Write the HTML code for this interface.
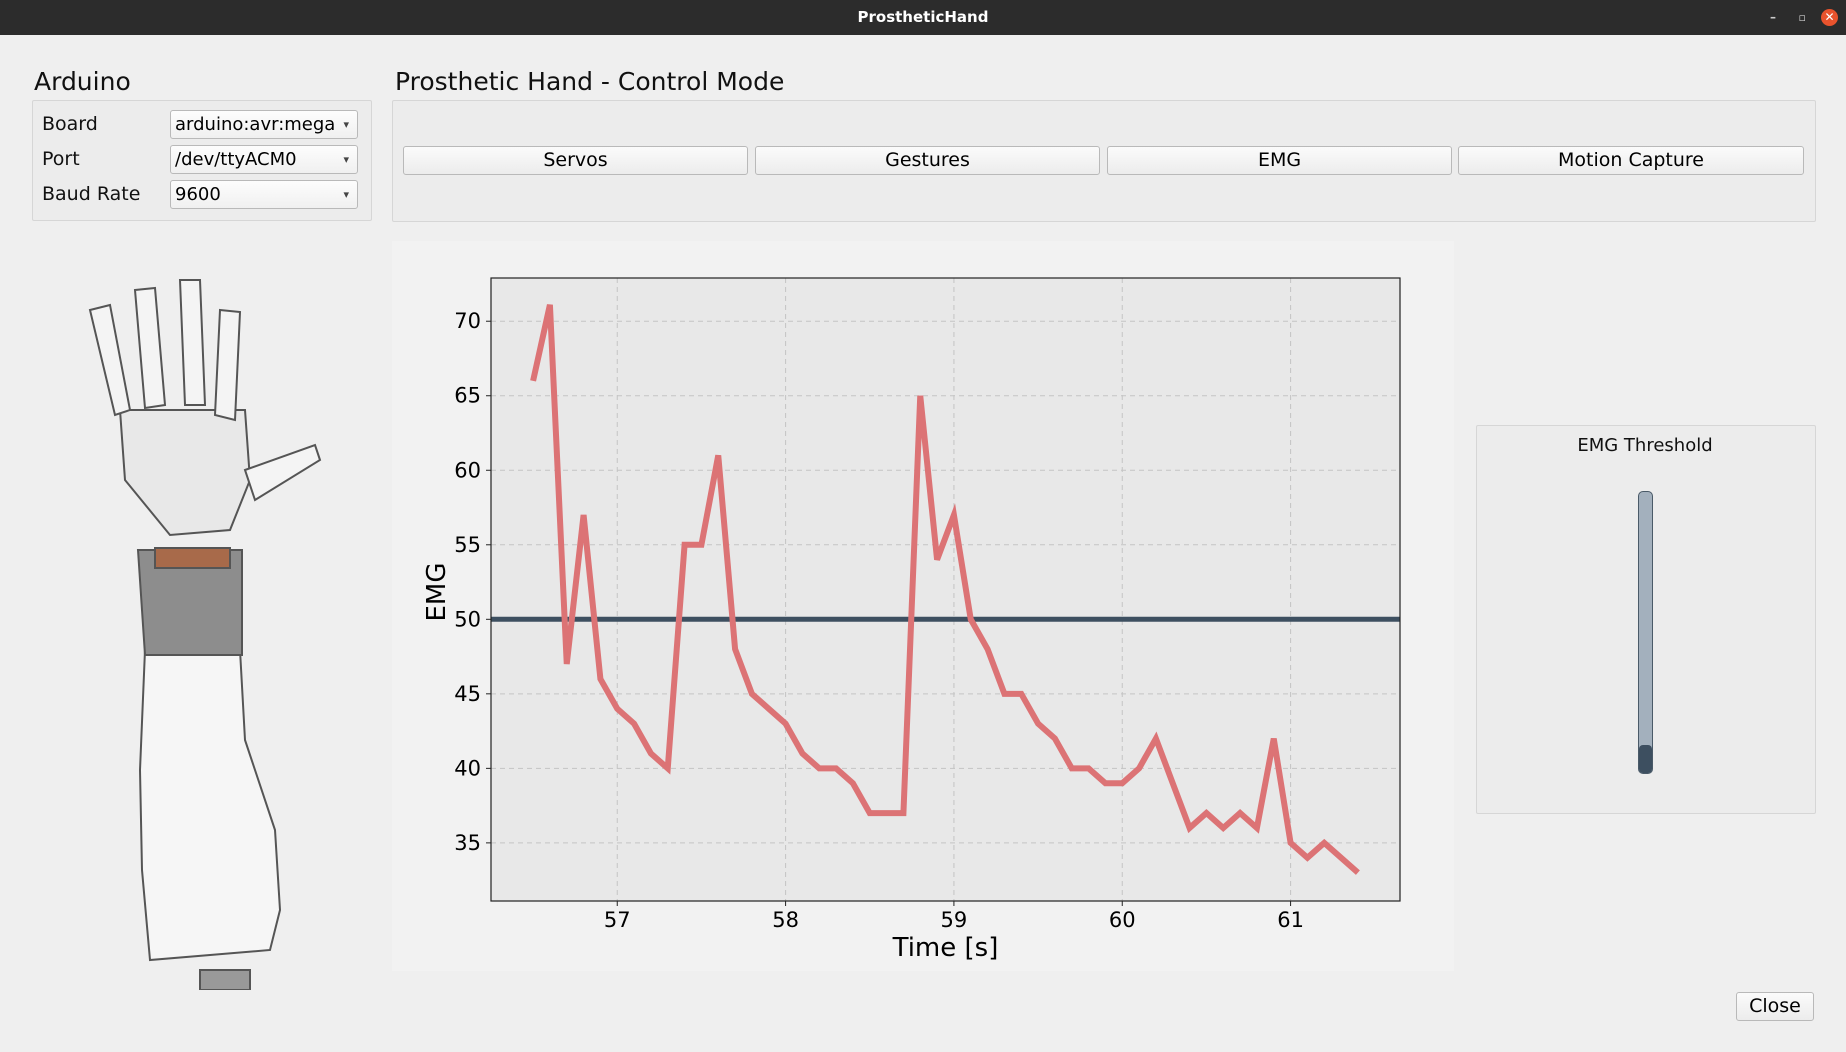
<!DOCTYPE html>
<html><head><meta charset="utf-8"><style>
body{margin:0;width:1846px;height:1052px;background:#efefef;font-family:"Liberation Sans","DejaVu Sans",sans-serif;position:relative;overflow:hidden}
.abs{position:absolute}
.tb{left:0;top:0;width:1846px;height:35px;background:#2c2c2c;color:#fff;font-weight:bold;font-size:15px;text-align:center;line-height:35px;font-family:"DejaVu Sans",sans-serif}
.gb{border:1px solid #d6d6d6;background:#ececec;border-radius:2px}
.lbl{font-size:19px;color:#111;font-family:"DejaVu Sans",sans-serif}
.combo{background:linear-gradient(#fdfdfd,#f0f0f0);border:1px solid #b9b9b9;border-radius:3px;font-size:18px;line-height:27px;padding-left:4px;box-sizing:border-box;font-family:"DejaVu Sans",sans-serif}
.combo::after{content:"▾";position:absolute;right:8px;font-size:11px;color:#444}
.btn{background:linear-gradient(#fbfbfb,#ececec);border:1px solid #b9b9b9;border-radius:3px;text-align:center;font-size:19px;line-height:27px;font-family:"DejaVu Sans",sans-serif;box-sizing:border-box}
.h{font-size:25px;font-family:"DejaVu Sans",sans-serif;color:#111}
</style></head><body>
<div class="abs tb">ProstheticHand
<span style="position:absolute;right:70px;font-size:12px;color:#ccc">–</span>
<span style="position:absolute;right:40px;font-size:11px;color:#ccc">▫</span>
<span style="position:absolute;right:8px;top:9px;width:17px;height:17px;border-radius:50%;background:#e9532d;line-height:17px;font-size:12px">✕</span></div>

<div class="abs h" style="left:34px;top:67px">Arduino</div>
<div class="abs gb" style="left:32px;top:100px;width:338px;height:119px"></div>
<div class="abs lbl" style="left:42px;top:113px">Board</div>
<div class="abs lbl" style="left:42px;top:148px">Port</div>
<div class="abs lbl" style="left:42px;top:183px">Baud Rate</div>
<div class="abs combo" style="left:170px;top:110px;width:188px;height:29px">arduino:avr:mega</div>
<div class="abs combo" style="left:170px;top:145px;width:188px;height:29px">/dev/ttyACM0</div>
<div class="abs combo" style="left:170px;top:180px;width:188px;height:29px">9600</div>

<div class="abs h" style="left:395px;top:67px">Prosthetic Hand - Control Mode</div>
<div class="abs gb" style="left:392px;top:100px;width:1422px;height:120px"></div>
<div class="abs btn" style="left:403px;top:146px;width:345px;height:29px">Servos</div>
<div class="abs btn" style="left:755px;top:146px;width:345px;height:29px">Gestures</div>
<div class="abs btn" style="left:1107px;top:146px;width:345px;height:29px">EMG</div>
<div class="abs btn" style="left:1458px;top:146px;width:346px;height:29px">Motion Capture</div>

<svg class="abs" style="left:70px;top:270px" width="270" height="720">
<g stroke="#555" stroke-width="2" fill="#f4f4f4">
<path d="M75 380 L170 380 L175 470 L205 560 L210 640 L200 680 L80 690 L72 600 L70 500 Z" fill="#f6f6f6"/>
<path d="M68 280 L172 280 L172 385 L75 385 Z" fill="#8d8d8d"/>
<rect x="85" y="278" width="75" height="20" fill="#a86a4a"/>
<path d="M50 140 L175 140 L180 210 L160 260 L100 265 L55 210 Z" fill="#e8e8e8"/>
<path d="M20 40 L40 35 L60 140 L45 145 Z"/>
<path d="M65 20 L85 18 L95 135 L75 138 Z"/>
<path d="M110 10 L130 10 L135 135 L115 135 Z"/>
<path d="M150 40 L170 42 L165 150 L145 145 Z"/>
<path d="M175 200 L245 175 L250 190 L185 230 Z"/>
<rect x="130" y="700" width="50" height="20" fill="#999"/>
</g></svg>

<div class="abs" style="left:392px;top:241px;width:1062px;height:730px;background:#f2f2f2"></div>
<svg id="chart" class="abs" style="left:0;top:0" width="1846" height="1052"></svg>

<div class="abs gb" style="left:1476px;top:425px;width:338px;height:387px;background:#ececec"></div>
<div class="abs lbl" style="left:1476px;top:435px;width:338px;text-align:center;font-size:18px">EMG Threshold</div>
<div class="abs" style="left:1638px;top:491px;width:13px;height:281px;border:1px solid #4a5a68;border-radius:5px;background:#a3b0bd">
<div style="position:absolute;left:0;bottom:0;width:13px;height:28px;background:#3d4f60;border-radius:4px"></div></div>

<div class="abs btn" style="left:1736px;top:992px;width:78px;height:29px">Close</div>

<script>
const times=[56.5,56.6,56.7,56.8,56.9,57.0,57.1,57.2,57.3,57.4,57.5,57.6,57.7,57.8,57.9,58.0,58.1,58.2,58.3,58.4,58.5,58.6,58.7,58.8,58.9,59.0,59.1,59.2,59.3,59.4,59.5,59.6,59.7,59.8,59.9,60.0,60.1,60.2,60.3,60.4,60.5,60.6,60.7,60.8,60.9,61.0,61.1,61.2,61.3,61.4];
const emg=[66,71.1,47,57,46,44,43,41,40,55,55,61,48,45,44,43,41,40,40,39,37,37,37,65,54,57,50,48,45,45,43,42,40,40,39,39,40,42,39,36,37,36,37,36,42,35,34,35,34,33];
const threshold=[50];
const xTicks=[57,58,59,60,61];
const yTicks=[35,40,45,50,55,60,65,70];
const L=491,R=1400,T=278,B=901,x0=56.25,x1=61.65,y0=31.1,y1=72.9;
const X=v=>L+(v-x0)/(x1-x0)*(R-L);
const Y=v=>B-(v-y0)/(y1-y0)*(B-T);
const s=document.getElementById('chart');const NS='http://www.w3.org/2000/svg';
function mk(t,a,txt){const e=document.createElementNS(NS,t);for(const k in a)e.setAttribute(k,a[k]);if(txt!==undefined)e.textContent=txt;s.appendChild(e);return e;}
const bg=mk('rect',{x:L,y:T,width:R-L,height:B-T,fill:'#e8e8e8'});


xTicks.forEach(v=>{const g=mk('line',{x1:X(v),x2:X(v),y1:T,y2:B,stroke:'#c4c4c4','stroke-dasharray':'5,4'});


mk('line',{x1:X(v),x2:X(v),y1:B,y2:B+5,stroke:'#222'});
const t=mk('text',{x:X(v),y:B+26,'font-size':21,'text-anchor':'middle','font-family':'DejaVu Sans, sans-serif'},v);

});
yTicks.forEach(v=>{const g=mk('line',{x1:L,x2:R,y1:Y(v),y2:Y(v),stroke:'#c4c4c4','stroke-dasharray':'5,4'});


mk('line',{x1:L-5,x2:L,y1:Y(v),y2:Y(v),stroke:'#222'});
const t=mk('text',{x:L-10,y:Y(v)+7,'font-size':21,'text-anchor':'end','font-family':'DejaVu Sans, sans-serif'},v);

});
const th=mk('line',{x1:L,x2:R,y1:Y(threshold[0]),y2:Y(threshold[0]),stroke:'#3d4f60','stroke-width':5});


const ln=mk('polyline',{points:times.map((t,i)=>X(t)+','+Y(emg[i])).join(' '),fill:'none',stroke:'#dc7375','stroke-width':6,'stroke-linejoin':'miter'});


const fr=mk('rect',{x:L,y:T,width:R-L,height:B-T,fill:'none',stroke:'#222','stroke-width':1.2});


const xl=mk('text',{x:(L+R)/2,y:956,'font-size':26,'text-anchor':'middle','font-family':'DejaVu Sans, sans-serif'},'Time [s]');


const yl=mk('text',{x:0,y:0,'font-size':26,'text-anchor':'middle','font-family':'DejaVu Sans, sans-serif',transform:'translate(445,592) rotate(-90)'},'EMG');


</script>
</body></html>
